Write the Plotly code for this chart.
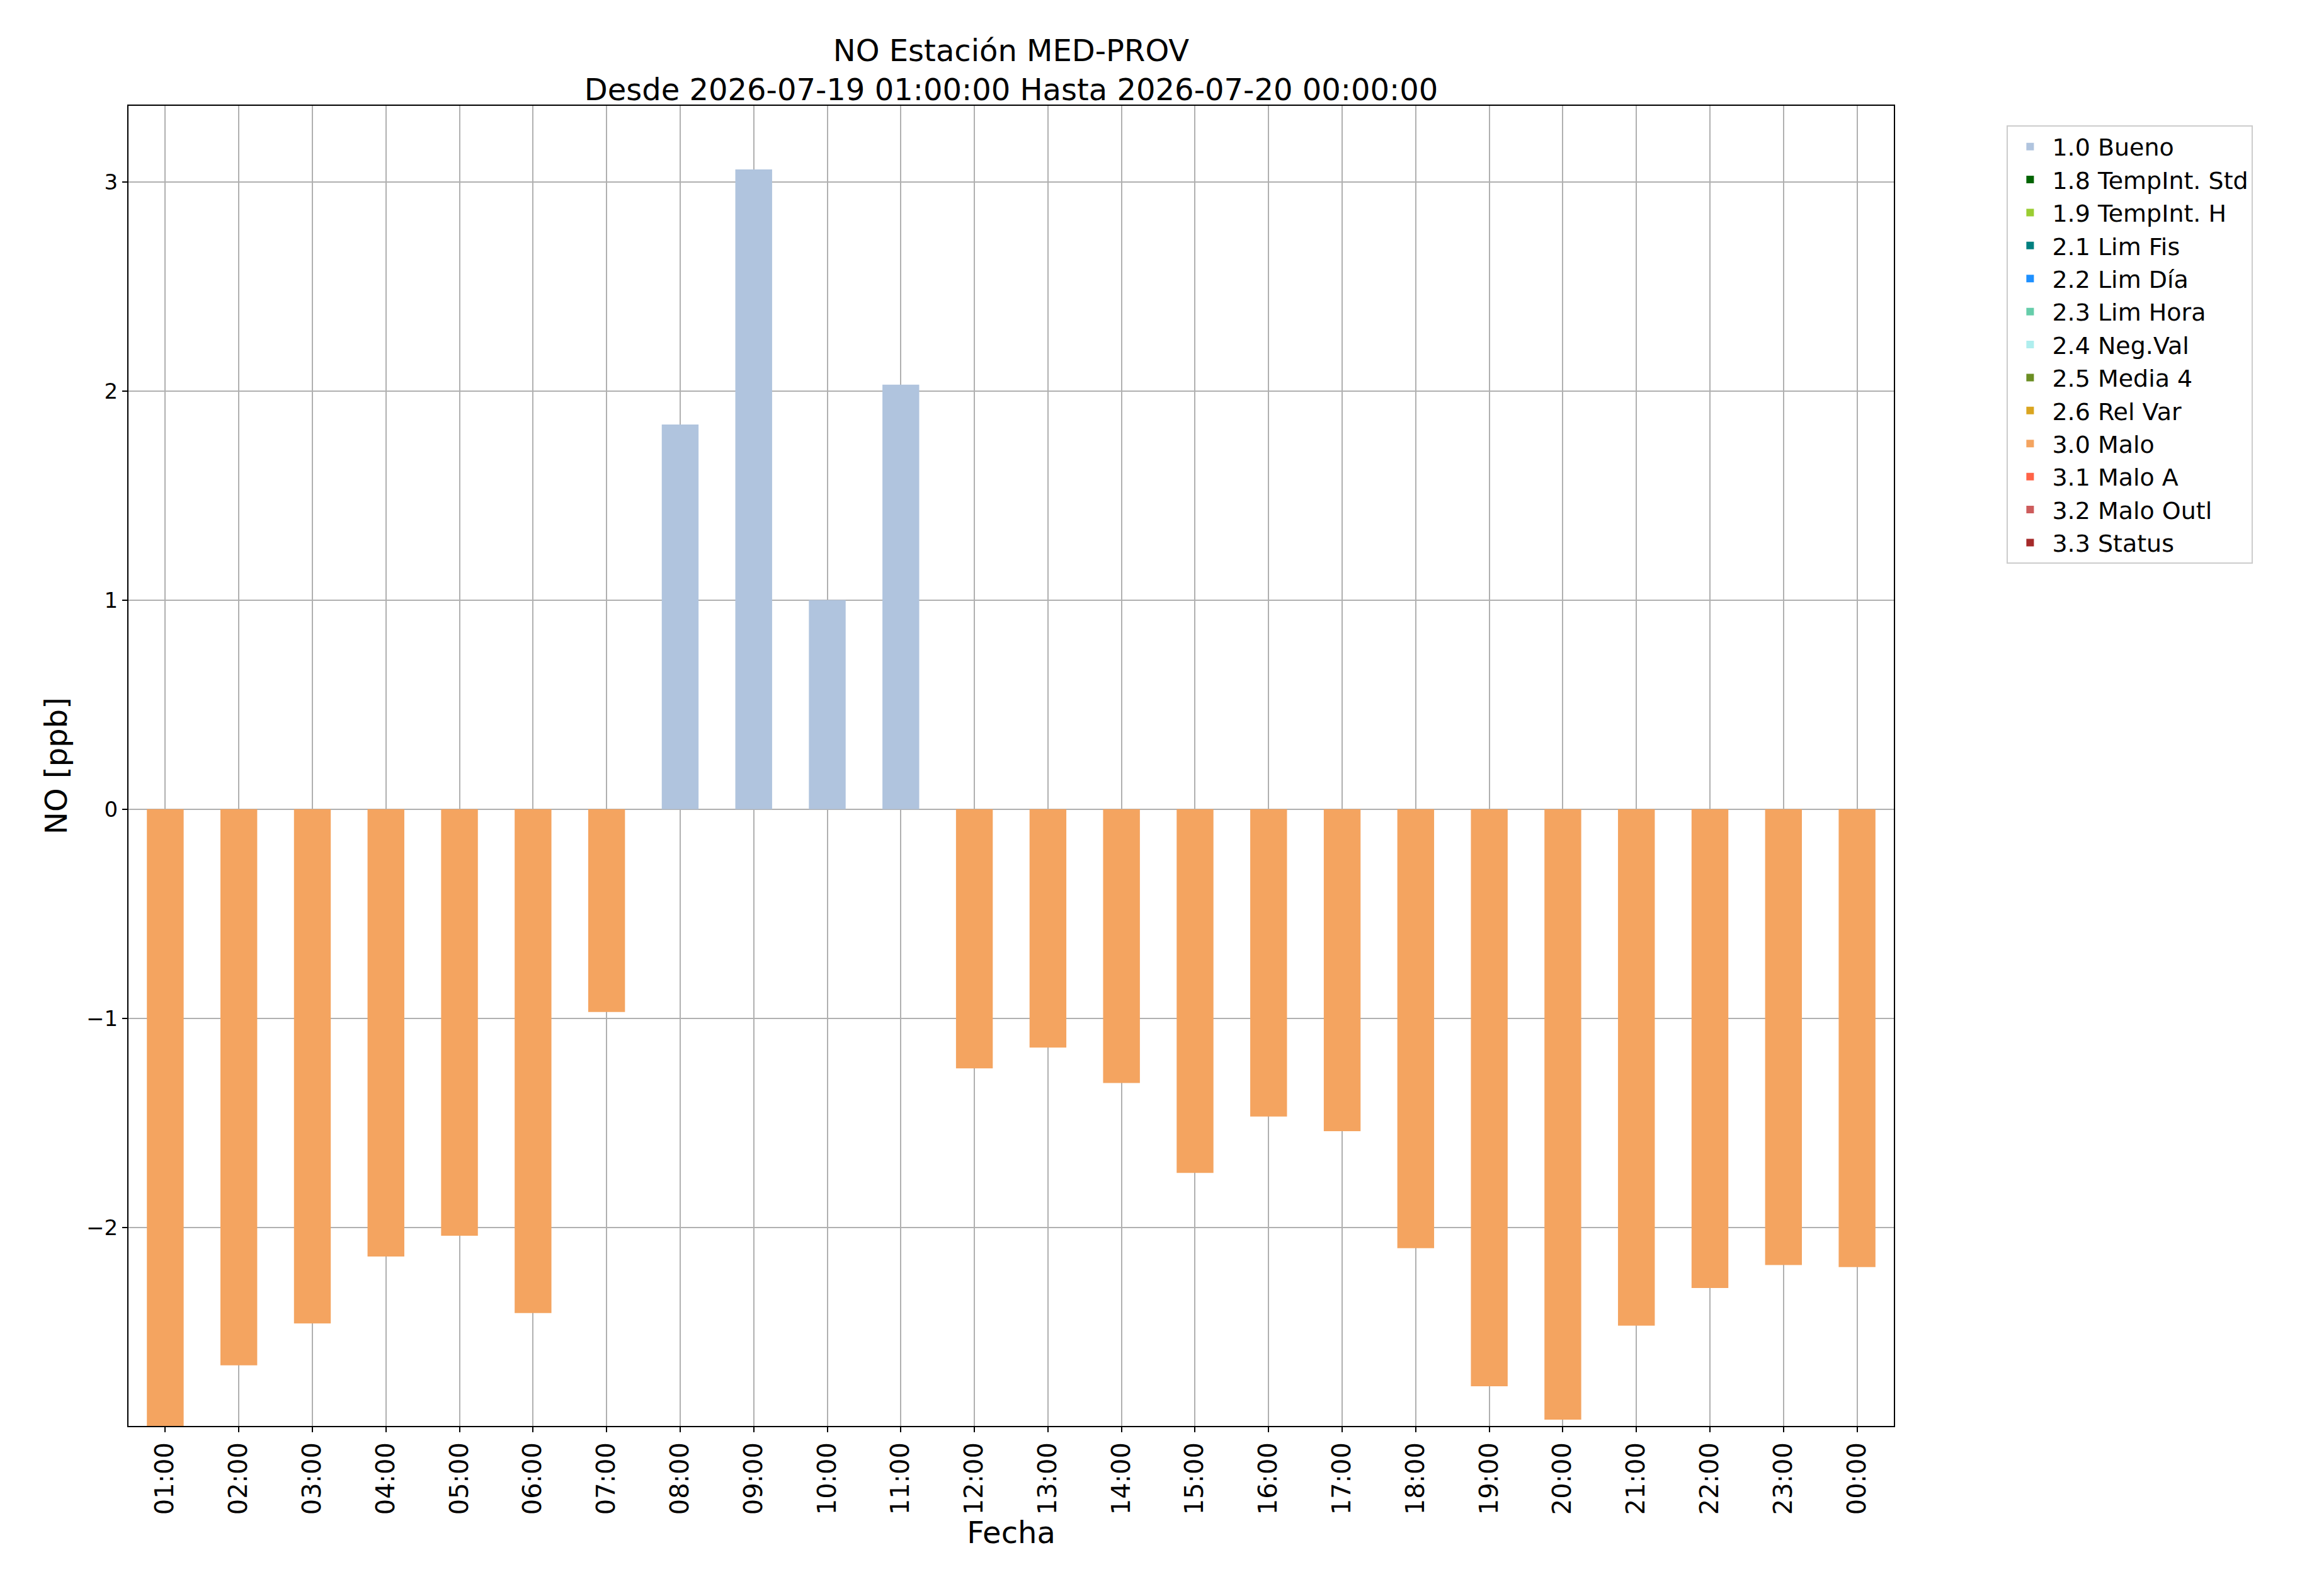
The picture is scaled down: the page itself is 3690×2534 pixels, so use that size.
import plotly.graph_objects as go

horas = ["01:00", "02:00", "03:00", "04:00", "05:00", "06:00", "07:00", "08:00",
         "09:00", "10:00", "11:00", "12:00", "13:00", "14:00", "15:00", "16:00",
         "17:00", "18:00", "19:00", "20:00", "21:00", "22:00", "23:00", "00:00"]
valores = [-3.0, -2.66, -2.46, -2.14, -2.04, -2.41, -0.97, 1.84,
           3.06, 1.0, 2.03, -1.24, -1.14, -1.31, -1.74, -1.47,
           -1.54, -2.10, -2.76, -2.92, -2.47, -2.29, -2.18, -2.19]
flags = ["3.0 Malo"] * 7 + ["1.0 Bueno"] * 4 + ["3.0 Malo"] * 13

categorias = ["1.0 Bueno", "1.8 TempInt. Std", "1.9 TempInt. H", "2.1 Lim Fis",
              "2.2 Lim Día", "2.3 Lim Hora", "2.4 Neg.Val", "2.5 Media 4",
              "2.6 Rel Var", "3.0 Malo", "3.1 Malo A", "3.2 Malo Outl", "3.3 Status"]
colores = ["#b0c4de", "#006400", "#9acd32", "#008080", "#1e90ff", "#66cdaa",
           "#afeeee", "#6b8e23", "#daa520", "#f4a460", "#ff6347", "#cd5c5c", "#a52a2a"]

fig = go.Figure()
for cat, col in zip(categorias, colores):
    ys = [v if f == cat else None for v, f in zip(valores, flags)]
    fig.add_trace(go.Bar(x=horas, y=ys, name=cat, marker_color=col,
                         marker_line_width=0, width=0.5))

axis_common = dict(showline=True, linecolor="black", linewidth=2, mirror=True,
                   showgrid=True, gridcolor="#b0b0b0", gridwidth=2, zeroline=False,
                   ticks="outside", tickcolor="black", ticklen=8, tickwidth=2)

fig.update_layout(
    width=3690, height=2534,
    barmode="overlay",
    plot_bgcolor="white", paper_bgcolor="white",
    font=dict(family="DejaVu Sans", color="black", size=26),
    title=dict(text="NO Estación MED-PROV<br>Desde 2026-07-19 01:00:00 Hasta 2026-07-20 00:00:00",
               xref="paper", x=0.5, xanchor="center", y=0.965, yanchor="top", font=dict(size=48)),
    margin=dict(l=196, r=691, t=160, b=278),
    xaxis=dict(axis_common, title=dict(text="Fecha", font=dict(size=48), standoff=10),
               tickangle=-90, tickfont=dict(size=40), range=[-0.5, 23.5]),
    yaxis=dict(axis_common, title=dict(text="NO [ppb]", font=dict(size=48)),
               range=[-2.95, 3.364], tickvals=[-2, -1, 0, 1, 2, 3],
               ticktext=["\u22122", "\u22121", "0", "1", "2", "3"], tickfont=dict(size=34)),
    legend=dict(x=1.064, xanchor="left", y=0.985, yanchor="top",
                bordercolor="#cccccc", borderwidth=2, font=dict(size=38),
                tracegroupgap=0, itemwidth=60),
    bargap=0.5,
)

fig.write_html("out.html")
